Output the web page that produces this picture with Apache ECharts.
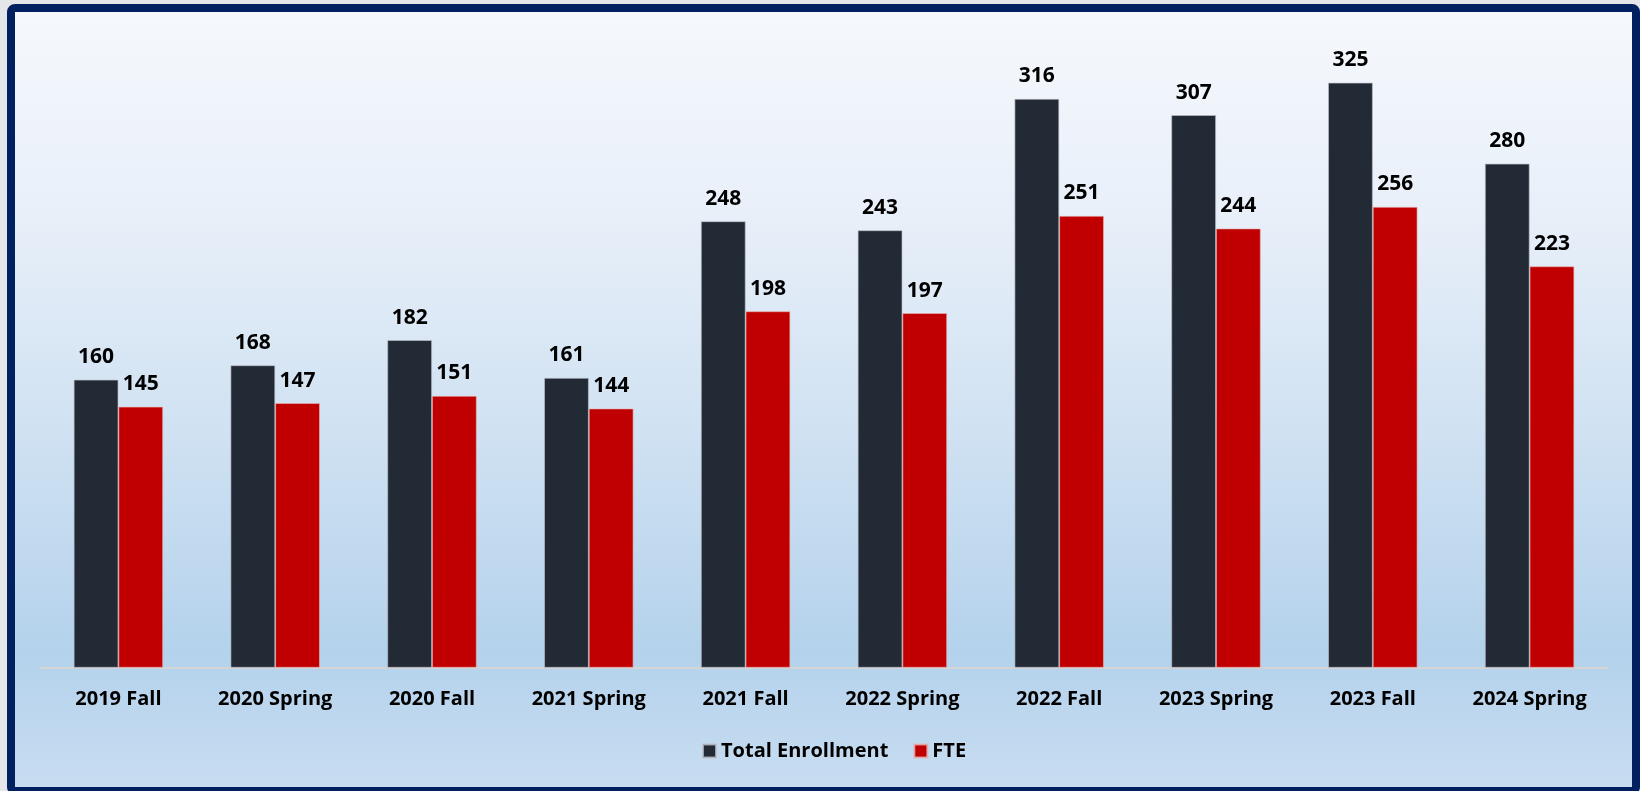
<!DOCTYPE html>
<html>
<head>
<meta charset="utf-8">
<script src="https://cdn.jsdelivr.net/npm/echarts@6/dist/echarts.min.js"></script>
<style>
html,body{margin:0;padding:0;background:#e4e6ea;}
#chart{width:1640px;height:791px;}
</style>
</head>
<body>
<div id="chart"></div>
<script>
const categories = ['2019 Fall','2020 Spring','2020 Fall','2021 Spring','2021 Fall','2022 Spring','2022 Fall','2023 Spring','2023 Fall','2024 Spring'];
const totalEnrollment = [160,168,182,161,248,243,316,307,325,280];
const fte = [145,147,151,144,198,197,251,244,256,223];

const FONT = '"Open Sans", "Noto Sans", sans-serif';
const chart = echarts.init(document.getElementById('chart'), null, {renderer:'canvas'});
const labelStyle = {show:true, position:'top', distance:12, color:'#000', fontFamily:FONT, fontWeight:'bold', fontSize:21};
chart.setOption({
  backgroundColor: '#e4e6ea',
  animation: false,
  graphic: [
    {type:'rect', z:-10, silent:true,
     shape:{x:11, y:8, width:1625, height:783, r:4},
     style:{
       fill:{type:'linear', x:0, y:0, x2:0, y2:1, colorStops:[
         {offset:0, color:'#f6f9fd'},
         {offset:0.25, color:'#e9f0f9'},
         {offset:0.55, color:'#cfe1f2'},
         {offset:0.82, color:'#b4d2ec'},
         {offset:1, color:'#c9ddf1'}
       ]},
       stroke:'#002060', lineWidth:8
     }}
  ],
  grid: {left:40, right:32, top:37.7, bottom:123.3, containLabel:false},
  legend: {
    bottom: 25, left: 697,
    itemWidth: 13, itemHeight: 13, itemGap: 25,
    icon: 'rect',
    textStyle: {fontFamily:FONT, fontWeight:'bold', fontSize:20, color:'#000'},
    data: ['Total Enrollment','FTE']
  },
  xAxis: {
    type:'category', data:categories,
    axisLine:{show:true, lineStyle:{color:'#d4d4d4', width:2}},
    axisTick:{show:false},
    axisLabel:{fontFamily:FONT, fontWeight:'bold', fontSize:20, color:'#000', margin:22, interval:0}
  },
  yAxis: {type:'value', min:0, max:350, show:false, splitLine:{show:false}},
  series: [
    {name:'Total Enrollment', type:'bar', data:totalEnrollment, barGap:'0%', barCategoryGap:'43%',
     itemStyle:{color:'#222a35', borderColor:'rgba(190,190,200,0.8)', borderWidth:0.8},
     label:labelStyle},
    {name:'FTE', type:'bar', data:fte, barGap:'0%', barCategoryGap:'43%',
     itemStyle:{color:'#c00000', borderColor:'rgba(230,180,180,0.8)', borderWidth:0.8},
     label:labelStyle}
  ]
});
</script>
</body>
</html>
